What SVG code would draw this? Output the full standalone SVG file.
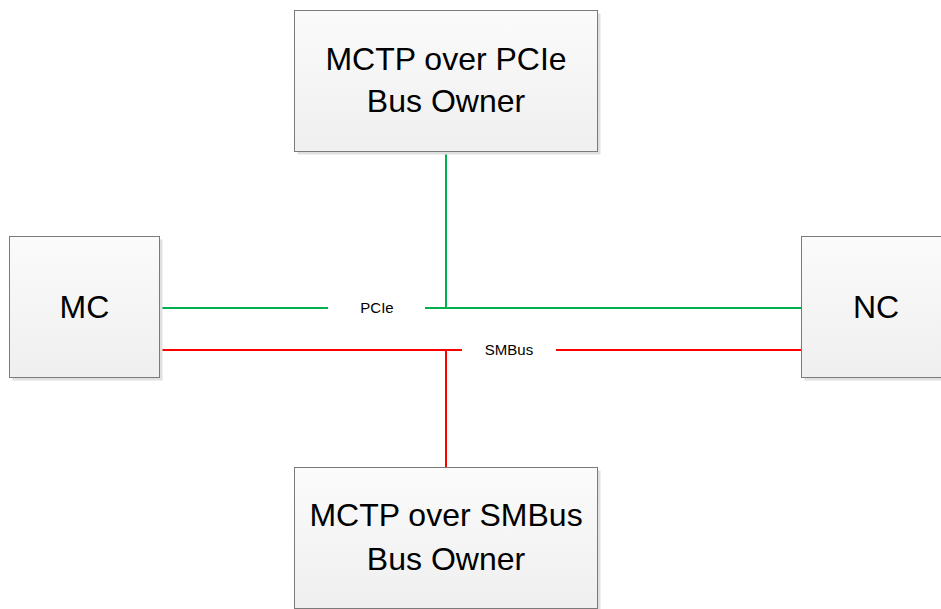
<svg xmlns="http://www.w3.org/2000/svg" width="941" height="609" viewBox="0 0 941 609">
<defs>
<linearGradient id="g" x1="0" y1="0" x2="0" y2="1">
<stop offset="0" stop-color="#fbfbfb"/>
<stop offset="1" stop-color="#efefef"/>
</linearGradient>
</defs>
<style>
.box{fill:url(#g);stroke:#7a7a7a;stroke-width:1}
.sh{fill:#e0e0e0}
.t{font-family:"Liberation Sans",Arial,sans-serif;font-size:32px;fill:#000;text-anchor:middle}
.l{font-family:"Liberation Sans",Arial,sans-serif;font-size:15px;fill:#000;text-anchor:middle}
.gr{stroke:#00b050;stroke-width:2;fill:none}
.rd{stroke:#ff0000;stroke-width:2;fill:none}
</style>
<rect width="941" height="609" fill="#fff"/>
<g id="connectors">
<path class="gr" d="M446 152V308M160 308H328M425 308H801"/>
<path class="rd" d="M446 467V350M160 350H462M556 350H801"/>
<text class="l" x="377" y="313">PCIe</text>
<text class="l" x="509" y="355">SMBus</text>
</g>
<g id="pcie-owner">
<rect class="sh" x="297.5" y="13.5" width="303" height="141"/>
<rect class="box" x="294.5" y="10.5" width="303" height="141"/>
<text class="t" x="446" y="70">MCTP over PCIe</text>
<text class="t" x="446" y="112">Bus Owner</text>
</g>
<g id="mc">
<rect class="sh" x="12.5" y="239.5" width="150" height="141"/>
<rect class="box" x="9.5" y="236.5" width="150" height="141"/>
<text class="t" x="84.5" y="318">MC</text>
</g>
<g id="nc">
<rect class="sh" x="804.5" y="239.5" width="150" height="141"/>
<rect class="box" x="801.5" y="236.5" width="150" height="141"/>
<text class="t" x="876" y="318">NC</text>
</g>
<g id="smbus-owner">
<rect class="sh" x="297.5" y="470.5" width="303" height="141"/>
<rect class="box" x="294.5" y="467.5" width="303" height="141"/>
<text class="t" x="446" y="526">MCTP over SMBus</text>
<text class="t" x="446" y="570">Bus Owner</text>
</g>
</svg>
